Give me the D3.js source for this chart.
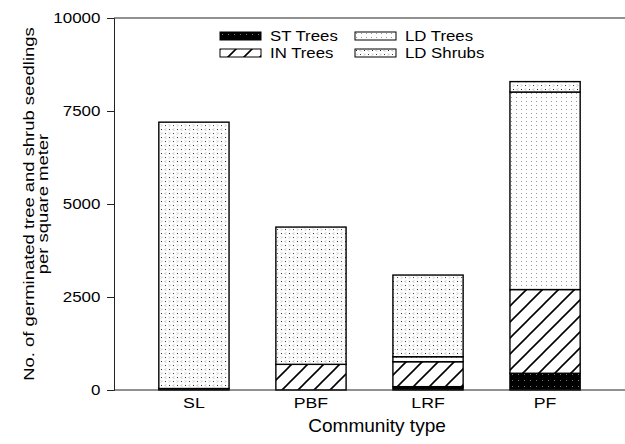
<!DOCTYPE html>
<html>
<head>
<meta charset="utf-8">
<script src="https://cdn.jsdelivr.net/npm/d3@7"></script>
<style>
  body { margin: 0; background: #fff; }
  text { font-family: "Liberation Sans", Arial, sans-serif; fill: #000; }
</style>
</head>
<body>
<div id="chart"></div>
<script>
var categories = ["SL", "PBF", "LRF", "PF"];
var stTrees = [40, 0, 90, 450];
var inTrees = [0, 690, 670, 2250];
var ldTrees = [0, 0, 135, 5310];
var ldShrubs = [7160, 3690, 2195, 280];
var seriesNames = ["ST Trees", "IN Trees", "LD Trees", "LD Shrubs"];
var yTicks = [0, 2500, 5000, 7500, 10000];

var _width = 625, _height = 444;
var _margins = { top: 18, right: 0, bottom: 54, left: 114 };
var _font = "Liberation Sans, Arial, sans-serif";

var svg = d3.select("#chart").append("svg")
  .attr("width", _width)
  .attr("height", _height);

var defs = svg.append("defs");

// black with sparse grey dots
var pST = defs.append("pattern").attr("id", "p-st")
  .attr("patternUnits", "userSpaceOnUse").attr("width", 6).attr("height", 6);
pST.append("rect").attr("width", 6).attr("height", 6).attr("fill", "#000");
pST.append("rect").attr("x", 2).attr("y", 2).attr("width", 1).attr("height", 1).attr("fill", "#777");

// diagonal hatch
var pIN = defs.append("pattern").attr("id", "p-in")
  .attr("patternUnits", "userSpaceOnUse").attr("width", 16).attr("height", 16);
pIN.append("rect").attr("width", 16).attr("height", 16).attr("fill", "#fff");
pIN.append("path").attr("d", "M-2,18 L18,-2 M-4,4 L4,-4 M12,20 L20,12")
  .attr("stroke", "#000").attr("stroke-width", 1.6);

// light fine dots
var pLDT = defs.append("pattern").attr("id", "p-ldt")
  .attr("patternUnits", "userSpaceOnUse").attr("width", 5).attr("height", 4);
pLDT.append("rect").attr("width", 5).attr("height", 4).attr("fill", "#fff");
pLDT.append("rect").attr("x", 1).attr("y", 1).attr("width", 1).attr("height", 1).attr("fill", "#999");

// chevrons and dots
var pLDS = defs.append("pattern").attr("id", "p-lds")
  .attr("patternUnits", "userSpaceOnUse").attr("width", 8).attr("height", 8);
pLDS.append("rect").attr("width", 8).attr("height", 8).attr("fill", "#fff");
pLDS.append("rect").attr("x", 1).attr("y", 1).attr("width", 1).attr("height", 1).attr("fill", "#222");
pLDS.append("path").attr("d", "M6,0.5 L5,1.5 L6,2.5").attr("stroke", "#999").attr("fill", "none").attr("stroke-width", 0.9);
pLDS.append("rect").attr("x", 5).attr("y", 5).attr("width", 1).attr("height", 1).attr("fill", "#444");
pLDS.append("path").attr("d", "M1,4.5 L2,5.5 L1,6.5").attr("stroke", "#aaa").attr("fill", "none").attr("stroke-width", 0.9);

var fills = ["url(#p-st)", "url(#p-in)", "url(#p-ldt)", "url(#p-lds)"];

var x = d3.scaleBand()
  .domain(categories)
  .range([_margins.left, _width - _margins.right])
  .paddingInner(0.4)
  .paddingOuter(0.383);

var y = d3.scaleLinear()
  .domain([0, 10000])
  .range([_height - _margins.bottom, _margins.top]);

var table = categories.map(function(c, i) {
  return { cat: c, "ST Trees": stTrees[i], "IN Trees": inTrees[i], "LD Trees": ldTrees[i], "LD Shrubs": ldShrubs[i] };
});
var stacked = d3.stack().keys(seriesNames)(table);

var bars = svg.append("g").attr("class", "bars");
stacked.forEach(function(layer, k) {
  bars.selectAll(null)
    .data(layer.filter(function(d) { return d[1] - d[0] > 0; }))
    .enter().append("rect")
    .attr("x", function(d) { return x(d.data.cat); })
    .attr("width", x.bandwidth())
    .attr("y", function(d) { return y(d[1]); })
    .attr("height", function(d) { return y(d[0]) - y(d[1]); })
    .attr("fill", fills[k])
    .attr("stroke", "#000")
    .attr("stroke-width", 1.4);
});

// axes (text is a bit wide in the original, so stretch it)
var yAxis = svg.append("g")
  .attr("transform", "translate(" + _margins.left + ",0)")
  .call(d3.axisLeft(y).tickValues(yTicks).tickSize(7).tickPadding(5).tickFormat(d3.format("d")));
yAxis.selectAll("text")
  .attr("font-size", 15).attr("font-family", _font)
  .attr("transform", "scale(1.13,1)");
yAxis.selectAll("line, path").attr("stroke", "#222");

var xAxis = svg.append("g")
  .attr("transform", "translate(0," + y(0) + ")")
  .call(d3.axisBottom(x).tickSize(0).tickPadding(7));
xAxis.select(".domain").remove();
xAxis.selectAll("text")
  .attr("font-size", 15).attr("font-family", _font)
  .attr("transform", "scale(1.18,1)");

svg.append("line")
  .attr("x1", _margins.left).attr("x2", _width)
  .attr("y1", y(0)).attr("y2", y(0))
  .attr("stroke", "#222");
svg.append("line")
  .attr("x1", _margins.left).attr("x2", _width)
  .attr("y1", y(10000)).attr("y2", y(10000))
  .attr("stroke", "#222").attr("stroke-width", 1.2);

// titles
svg.append("text")
  .attr("transform", "translate(377,432) scale(1.06,1)")
  .attr("text-anchor", "middle").attr("font-size", 18)
  .text("Community type");

var yTitle = svg.append("text")
  .attr("transform", "translate(34,204) rotate(-90) scale(1.23,1)")
  .attr("text-anchor", "middle").attr("font-size", 15);
yTitle.append("tspan").attr("x", 0).attr("y", 0).text("No. of germinated tree and shrub seedlings");
yTitle.append("tspan").attr("x", 0).attr("y", 14).text("per square meter");

// legend
var legendPos = [[220, 32], [220, 49], [355, 32], [355, 49]];
var legend = svg.append("g").attr("class", "legend");
seriesNames.forEach(function(name, k) {
  var g = legend.append("g").attr("transform", "translate(" + legendPos[k][0] + "," + legendPos[k][1] + ")");
  g.append("rect").attr("width", 41).attr("height", 8)
    .attr("fill", fills[k]).attr("stroke", "#000").attr("stroke-width", 1);
  g.append("text").attr("transform", "translate(50,9) scale(1.12,1)")
    .attr("font-size", 15).text(name);
});
</script>
</body>
</html>
